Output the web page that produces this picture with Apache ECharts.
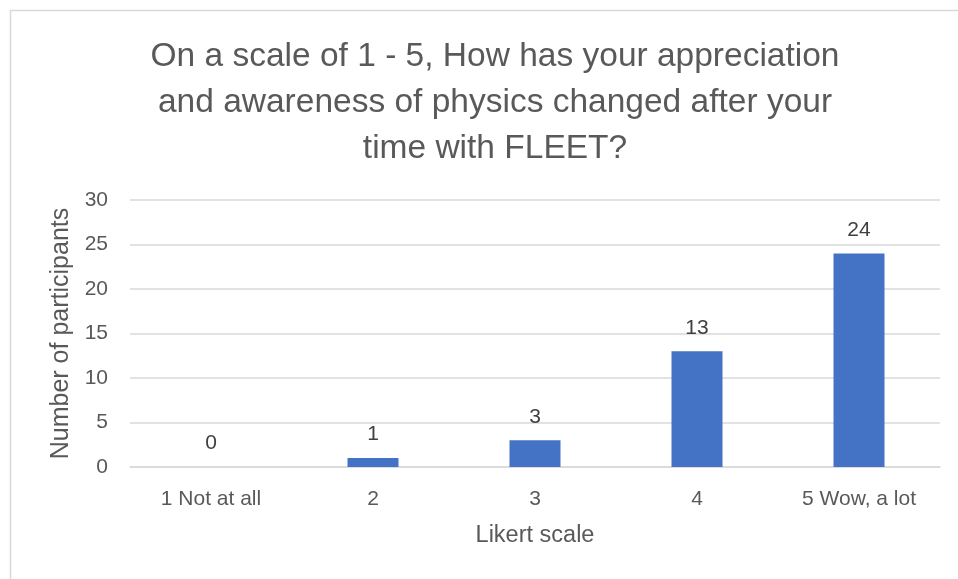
<!DOCTYPE html>
<html>
<head>
<meta charset="utf-8">
<script src="https://cdn.jsdelivr.net/npm/echarts@6/dist/echarts.min.js"></script>
<style>
html,body{margin:0;padding:0;background:#fff;}
#c{width:958px;height:579px;}
</style>
</head>
<body>
<div id="c"></div>
<script>
const titleText = "On a scale of 1 - 5, How has your appreciation\nand awareness of physics changed after your\ntime with FLEET?";
const categories = ["1 Not at all", "2", "3", "4", "5 Wow, a lot"];
const values = [0, 1, 3, 13, 24];
const yTicks = [0, 5, 10, 15, 20, 25, 30];
const xName = "Likert scale";
const yName = "Number of participants";

const font = "Liberation Sans, sans-serif";
const chart = echarts.init(document.getElementById('c'));
chart.setOption({
  backgroundColor: '#fff',
  animation: false,
  graphic: [{
    type: 'rect', shape: {x: 10.5, y: 10.5, width: 960, height: 600},
    style: {fill: 'none', stroke: '#d9d9d9', lineWidth: 1.5}, silent: true
  }],
  title: {
    text: titleText, left: 490, top: 29, textAlign: 'center',
    textStyle: {fontFamily: font, fontSize: 33.5, fontWeight: 'normal', color: '#595959', lineHeight: 46}
  },
  grid: {left: 130, right: 18, top: 200, bottom: 112, containLabel: false},
  xAxis: {
    type: 'category', data: categories,
    name: xName, nameLocation: 'middle', nameGap: 57,
    nameTextStyle: {fontFamily: font, fontSize: 23.5, color: '#595959'},
    axisLine: {show: true, lineStyle: {color: '#d9d9d9', width: 1.5}},
    axisTick: {show: false},
    axisLabel: {fontFamily: font, fontSize: 21, color: '#595959', margin: 22}
  },
  yAxis: {
    type: 'value', min: 0, max: yTicks[yTicks.length-1], interval: yTicks[1]-yTicks[0],
    name: yName, nameLocation: 'middle', nameGap: 56, nameRotate: 90,
    nameTextStyle: {fontFamily: font, fontSize: 25, color: '#595959'},
    axisLine: {show: false}, axisTick: {show: false},
    axisLabel: {fontFamily: font, fontSize: 21, color: '#595959', margin: 22},
    splitLine: {lineStyle: {color: '#d9d9d9', width: 1.5}}
  },
  series: [{
    type: 'bar', data: values, barWidth: 51,
    itemStyle: {color: '#4472c4'},
    label: {show: true, position: 'top', distance: 13, fontFamily: font, fontSize: 21, color: '#404040'}
  }]
});
</script>
</body>
</html>
